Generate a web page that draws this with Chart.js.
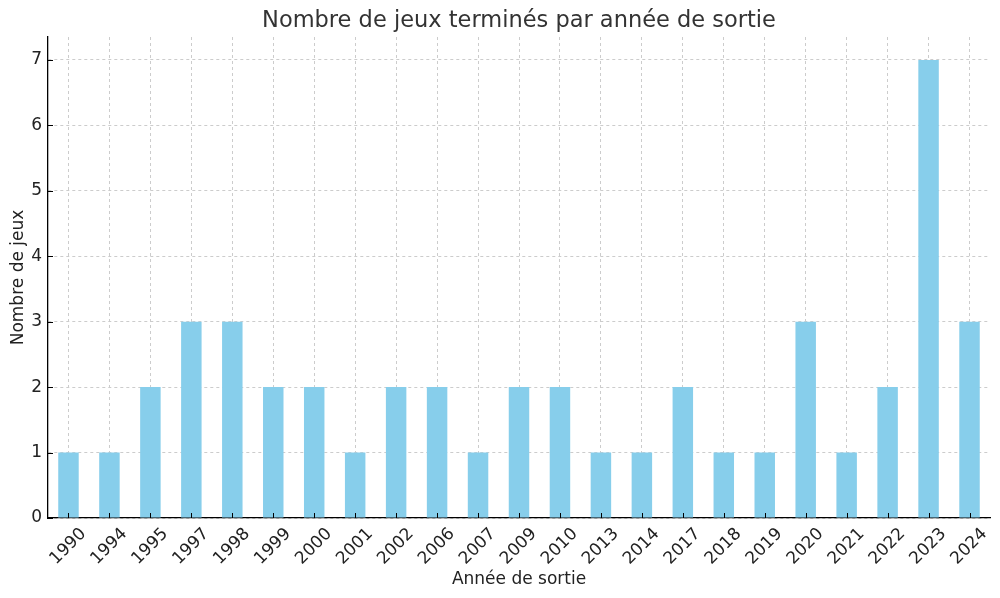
<!DOCTYPE html>
<html>
<head>
<meta charset="utf-8">
<script src="https://cdn.jsdelivr.net/npm/chart.js@4/dist/chart.umd.min.js"></script>
<style>
  html, body { margin: 0; padding: 0; background: #fff; }
  #wrap { width: 1000px; height: 598px; }
</style>
</head>
<body>
<div id="wrap"><canvas id="chart"></canvas></div>
<script>
// data
var years = ['1990','1994','1995','1997','1998','1999','2000','2001','2002','2006','2007','2009',
             '2010','2013','2014','2017','2018','2019','2020','2021','2022','2023','2024'];
var games = [1,1,2,3,3,2,2,1,2,2,1,2,2,1,1,2,1,1,3,1,2,7,3];
var yTicks = [0,1,2,3,4,5,6,7];
var titleText = 'Nombre de jeux terminés par année de sortie';

var fontFamily = '"DejaVu Sans", sans-serif';

// inward tick marks + title centred over the plot area (like matplotlib)
var mplLook = {
  id: 'mplLook',
  afterDatasetsDraw: function(chart) {
    var ctx = chart.ctx;
    var xs = chart.scales.x, ys = chart.scales.y;
    var area = chart.chartArea;
    ctx.save();
    ctx.strokeStyle = '#000';
    ctx.lineWidth = 1;
    ctx.beginPath();
    xs.ticks.forEach(function(t, i) {
      var px = Math.round(xs.getPixelForTick(i)) + 0.5;
      ctx.moveTo(px, area.bottom);
      ctx.lineTo(px, area.bottom - 5);
    });
    ys.ticks.forEach(function(t, i) {
      var py = Math.round(ys.getPixelForTick(i)) + 0.5;
      ctx.moveTo(area.left, py);
      ctx.lineTo(area.left + 5, py);
    });
    ctx.stroke();

    ctx.fillStyle = '#333';
    ctx.font = '22.5px ' + fontFamily;
    ctx.textAlign = 'center';
    ctx.textBaseline = 'middle';
    ctx.fillText(titleText, (area.left + area.right) / 2, 21);
    ctx.restore();
  }
};

new Chart(document.getElementById('chart'), {
  type: 'bar',
  data: {
    labels: years,
    datasets: [{
      label: 'Nombre de jeux',
      data: games,
      backgroundColor: '#87CEEB',
      categoryPercentage: 1.0,
      barPercentage: 0.5
    }]
  },
  options: {
    responsive: true,
    maintainAspectRatio: false,
    animation: false,
    layout: { padding: { left: 0, right: 10, top: 37, bottom: 0 } },
    plugins: {
      legend: { display: false },
      tooltip: { enabled: false },
      title: { display: false }
    },
    scales: {
      x: {
        offset: true,
        grid: {
          offset: false,
          color: '#cccccc',
          drawTicks: false
        },
        border: { display: true, color: '#000', width: 1.3, dash: [3, 3] },
        ticks: {
          color: '#222',
          font: { family: fontFamily, size: 17 },
          minRotation: 45,
          maxRotation: 45,
          padding: 6,
          labelOffset: 15,
          autoSkip: false
        },
        title: {
          display: true,
          text: 'Année de sortie',
          color: '#222',
          font: { family: fontFamily, size: 17 },
          padding: { top: 0, bottom: 8 }
        },
        afterFit: function(scale) { scale.height = 80; }
      },
      y: {
        min: 0,
        max: 7.35,
        afterBuildTicks: function(scale) {
          scale.ticks = yTicks.map(function(v) { return { value: v }; });
        },
        grid: {
          color: '#cccccc',
          drawTicks: false
        },
        border: { display: true, color: '#000', width: 1.3, dash: [3, 3] },
        ticks: {
          color: '#222',
          font: { family: fontFamily, size: 17 },
          padding: 6
        },
        title: {
          display: true,
          text: 'Nombre de jeux',
          color: '#222',
          font: { family: fontFamily, size: 17 },
          padding: { top: 8, bottom: 2 }
        },
        afterFit: function(scale) { scale.width = 48; }
      }
    }
  },
  plugins: [mplLook]
});
</script>
</body>
</html>
